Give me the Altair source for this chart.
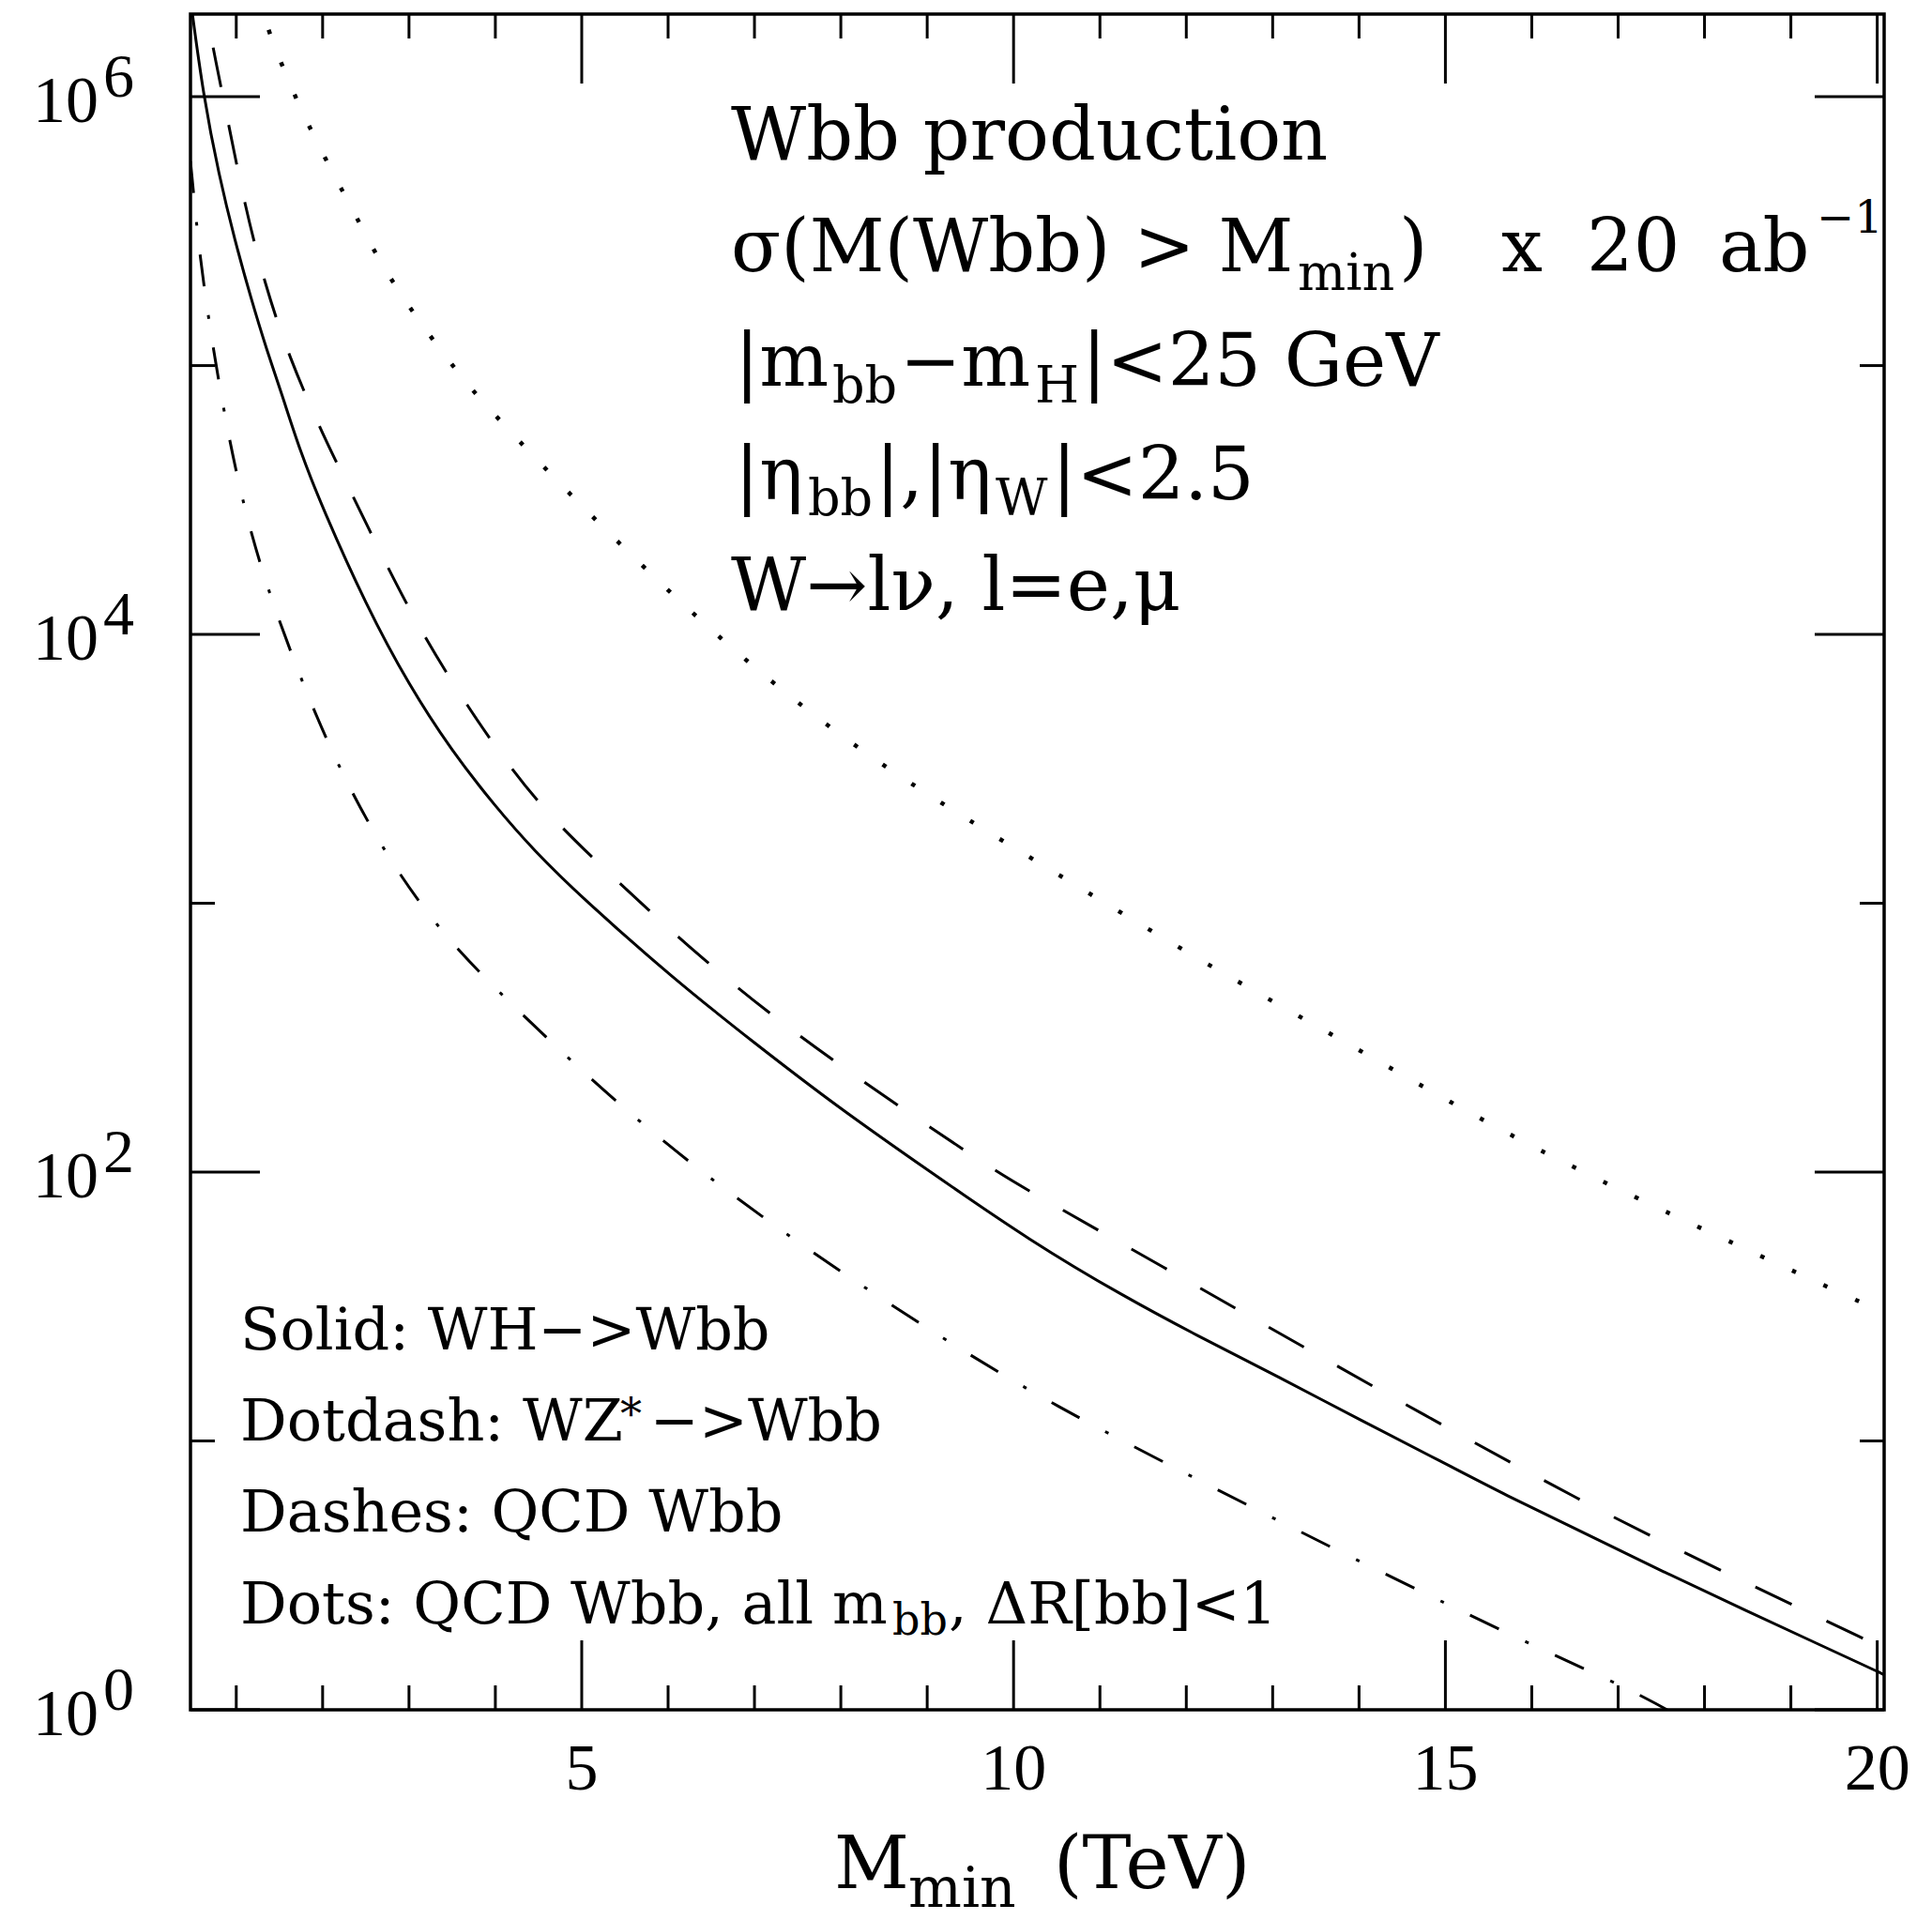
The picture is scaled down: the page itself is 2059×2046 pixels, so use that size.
import altair as alt
import pandas as pd

# ---- curves: M_min (TeV) vs events, sigma(M(Wbb) > M_min) x 20 ab^-1 ----
solid_x = [0.47, 0.62, 0.80, 0.98, 1.17, 1.35, 1.53, 1.74, 2.0, 2.5, 3.0, 3.5, 4.0, 4.44,
           5.0, 6.06, 7.0, 7.97, 9.0, 10.21, 11.29, 12.12, 13.07, 14.03, 14.98, 15.69,
           16.58, 17.53, 18.49, 19.31, 20.0, 20.08]
solid_y = [2.3e6, 1.0e6, 5.1e5, 2.95e5, 1.78e5, 1.15e5, 7.8e4, 4.79e4, 2.95e4, 1.29e4, 6.46e3,
           3.67e3, 2.29e3, 1.58e3, 1.05e3, 5.25e2, 3.02e2, 1.74e2, 1.02e2, 55, 34.3, 24.7, 17.3,
           11.9, 8.3, 6.3, 4.6, 3.25, 2.33, 1.76, 1.39, 1.35]

dotdash_x = [0.47, 0.50, 0.57, 0.68, 0.84, 1.0, 1.16, 1.4, 1.86, 2.3, 2.81, 3.4, 4.09, 5.68,
             7.43, 9.22, 10.46, 12.12, 14.06, 16.03, 17.0, 17.45, 17.8]
dotdash_y = [5.75e5, 4.57e5, 2.69e5, 1.48e5, 7.2e4, 3.98e4, 2.45e4, 1.35e4, 5.5e3, 2.69e3,
             1.38e3, 7.6e2, 4.48e2, 1.48e2, 56, 23.5, 13.6, 7.2, 3.48, 1.72, 1.25, 1.05, 0.91]

dashes_x = [0.55, 0.66, 0.75, 0.93, 1.09, 1.33, 1.62, 1.98, 2.16, 2.5, 3.0, 3.5, 4.0, 4.5,
            5.11, 6.73, 8.23, 9.76, 10.21, 12.12, 13.68, 15.27, 16.86, 18.49, 20.0, 20.08]
dashes_y = [2.95e6, 2.04e6, 1.41e6, 7.4e5, 4.07e5, 2.0e5, 1.06e5, 5.75e4, 4.37e4, 2.6e4,
            1.23e4, 6.6e3, 3.8e3, 2.34e3, 1.48e3, 4.9e2, 2.19e2, 1.02e2, 84, 37.7, 19.5,
            10.1, 5.33, 2.96, 1.74, 1.69]

dots_x = [1.25, 1.33, 1.45, 1.61, 1.76, 1.94, 2.13, 2.30, 2.49, 2.68, 2.89, 3.11, 3.35, 3.59,
          3.82, 4.66, 5.49, 6.35, 7.24, 8.20, 9.22, 10.27, 12.22, 13.94, 15.65, 17.40,
          19.95, 20.08]
dots_y = [2.35e6, 1.95e6, 1.51e6, 1.14e6, 8.8e5, 6.75e5, 5.1e5, 4.07e5, 3.09e5, 2.4e5,
          1.87e5, 1.48e5, 1.16e5, 9.25e4, 7.5e4, 3.87e4, 2.09e4, 1.14e4, 6.46e3, 3.75e3,
          2.29e3, 1.43e3, 5.94e2, 2.93e2, 1.41e2, 74.6, 31.3, 29.9]

# ---- axis ticks and labels ----
x_major = [5, 10, 15, 20]
x_minor = [1, 2, 3, 4, 6, 7, 8, 9, 11, 12, 13, 14, 16, 17, 18, 19]
y_major = [1, 1e2, 1e4, 1e6]
y_major_exp = ["0", "2", "4", "6"]
y_minor = [10, 1e3, 1e5]

W, H = 1805, 1807
SERIF = "DejaVu Serif"
NUMS = "Liberation Serif"
MAJOR, MINOR = 74, 26

xs = alt.Scale(domain=[0.47, 20.08], nice=False, zero=False)
ys = alt.Scale(type="log", domain=[1, 2.03e6], nice=False)


def curve(xv, yv, **mark):
    df = pd.DataFrame({"m": xv, "n": yv})
    return alt.Chart(df).mark_line(clip=True, color="black", interpolate="basis",
                                   **mark).encode(
        x=alt.X("m:Q", scale=xs, axis=None),
        y=alt.Y("n:Q", scale=ys, axis=None),
    )


def xticks(vals, length):
    df = pd.DataFrame({"m": vals})
    base = alt.Chart(df).mark_rule(color="black", strokeWidth=3)
    bottom = base.encode(x=alt.X("m:Q", scale=xs, axis=None),
                         y=alt.value(H), y2=alt.value(H - length))
    top = base.encode(x=alt.X("m:Q", scale=xs, axis=None),
                      y=alt.value(0), y2=alt.value(length))
    return [bottom, top]


def yticks(vals, length):
    df = pd.DataFrame({"n": vals})
    base = alt.Chart(df).mark_rule(color="black", strokeWidth=3)
    left = base.encode(y=alt.Y("n:Q", scale=ys, axis=None),
                       x=alt.value(0), x2=alt.value(length))
    right = base.encode(y=alt.Y("n:Q", scale=ys, axis=None),
                        x=alt.value(W), x2=alt.value(W - length))
    return [left, right]


dummy = pd.DataFrame({"k": [0]})


def label(text, px, py, size, style="normal"):
    return alt.Chart(dummy).mark_text(
        text=text, align="left", baseline="alphabetic", font=SERIF,
        fontSize=size, fontStyle=style, color="black",
    ).encode(x=alt.value(px), y=alt.value(py))


# y tick labels: "10" with a raised exponent
ylab_df = pd.DataFrame({"n": y_major, "base": ["10"] * len(y_major), "e": y_major_exp})
ylab_base = alt.Chart(ylab_df).mark_text(
    align="right", baseline="alphabetic", font=NUMS, fontSize=70, dy=27, color="black"
).encode(y=alt.Y("n:Q", scale=ys, axis=None), x=alt.value(-98), text="base:N")
ylab_exp = alt.Chart(ylab_df).mark_text(
    align="left", baseline="alphabetic", font=NUMS, fontSize=66, color="black"
).encode(y=alt.Y("n:Q", scale=ys, axis=None), x=alt.value(-93), text="e:N")

# x tick labels
xlab_df = pd.DataFrame({"m": x_major, "t": [str(v) for v in x_major]})
xlab = alt.Chart(xlab_df).mark_text(
    align="center", baseline="alphabetic", font=NUMS, fontSize=70, color="black"
).encode(x=alt.X("m:Q", scale=xs, axis=None), y=alt.value(H + 85), text="t:N")

BIG, SUB = 78, 54
LEG, LSUB = 62, 46

texts = [
    # x-axis title
    label("M", 686, 1997, BIG),
    label("min", 765, 2017, 60),
    label("(TeV)", 920, 1997, BIG),
    # process and cuts
    label("Wbb production", 576, 155, BIG),
    label("σ(M(Wbb) > M", 576, 274, BIG),
    label("min", 1180, 294, SUB),
    label(")", 1288, 274, BIG),
    label("x", 1397, 274, BIG),
    label("20", 1488, 274, BIG),
    label("ab", 1629, 274, BIG),
    label("−1", 1733, 233, 48),
    label("|m", 580, 396, BIG),
    label("bb", 684, 414, SUB),
    label("−m", 756, 396, BIG),
    label("H", 900, 414, SUB),
    label("|<25 GeV", 950, 396, BIG),
    label("|η", 580, 517, BIG),
    label("bb", 658, 534, SUB),
    label("|,|η", 730, 517, BIG),
    label("W", 858, 534, SUB),
    label("|<2.5", 918, 517, BIG),
    label("W→lν, l=e,μ", 576, 635, BIG),
    # line-style key
    label("Solid: WH−>Wbb", 53, 1423, LEG),
    label("Dotdash: WZ", 53, 1520, LEG),
    label("*", 458, 1508, LSUB),
    label("−>Wbb", 490, 1520, LEG),
    label("Dashes: QCD Wbb", 53, 1617, LEG),
    label("Dots: QCD Wbb, all m", 53, 1715, LEG),
    label("bb", 748, 1727, LSUB),
    label(", ΔR[bb]<1", 808, 1715, LEG),
]

layers = [
    curve(solid_x, solid_y, strokeWidth=3),
    curve(dotdash_x, dotdash_y, strokeWidth=3, strokeDash=[34, 31, 4, 31]),
    curve(dashes_x, dashes_y, strokeWidth=3, strokeDash=[43, 41]),
    curve(dots_x, dots_y, strokeWidth=4.5, strokeDash=[4.5, 32.5]),
]
layers += xticks(x_major, MAJOR) + xticks(x_minor, MINOR)
layers += yticks(y_major, MAJOR) + yticks(y_minor, MINOR)
layers += [ylab_base, ylab_exp, xlab] + texts

chart = alt.layer(*layers).properties(
    width=W,
    height=H,
    autosize=alt.AutoSizeParams(type="none"),
    padding={"left": 203, "top": 15, "right": 51, "bottom": 224},
    background="white",
).configure_view(stroke="black", strokeWidth=3.5)

chart.save("out.html", embed_options={"renderer": "svg", "actions": False})
